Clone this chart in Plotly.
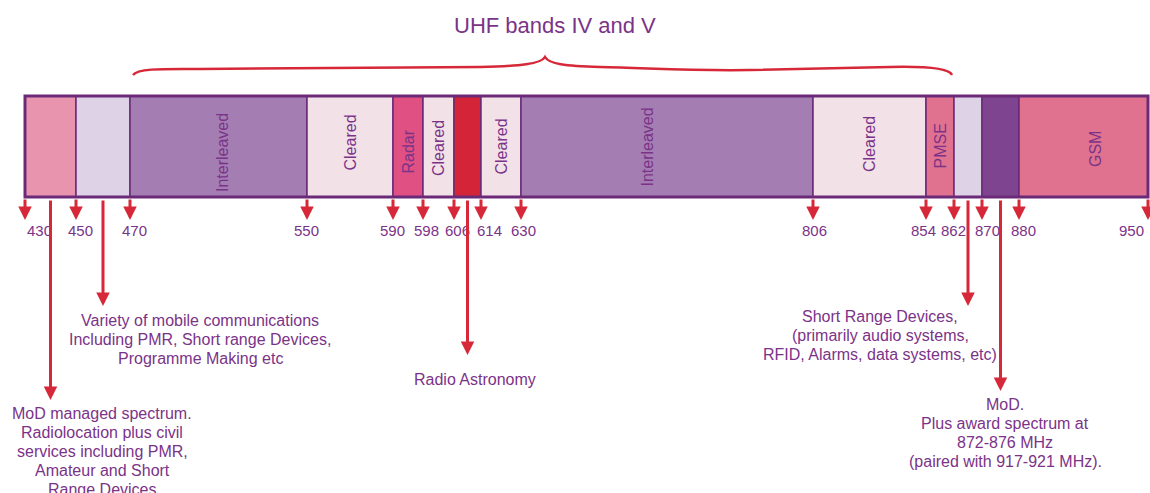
import numpy as np
import plotly.graph_objects as go

# ---------------- data ----------------
title_text = "UHF bands IV and V"
edge_mhz = [430, 450, 470, 550, 590, 598, 606, 614, 630, 806, 854, 862, 870, 880, 950]
# schematic (non-linear) position of each band edge on the diagram axis
edge_pos = [25, 76, 130, 307, 393, 423, 454, 481, 521, 813, 926, 954, 982, 1019, 1148]
band_labels = ["", "", "Interleaved", "Cleared", "Radar", "Cleared", "", "Cleared",
               "Interleaved", "Cleared", "PMSE", "", "", "GSM"]
band_colors = ["#E894AE", "#DED3E6", "#A47EB2", "#F2E2E8", "#E05082", "#F2E2E8", "#D42437",
               "#F2E2E8", "#A47EB2", "#F2E2E8", "#E07290", "#DED3E6", "#7F448F", "#E07290"]
tick_labels = [str(v) for v in edge_mhz]

callout_mhz = [440, 460, 610, 866, 875]
callout_lines = [
    ["MoD managed spectrum.", "Radiolocation plus civil", "services including PMR,",
     "Amateur and Short", "Range Devices"],
    ["Variety of mobile communications", "Including PMR, Short range Devices,",
     "Programme Making etc"],
    ["Radio Astronomy"],
    ["Short Range Devices,", "(primarily audio systems,", "RFID, Alarms, data systems, etc)"],
    ["MoD.", "Plus award spectrum at", "872-876 MHz", "(paired with 917-921 MHz)."],
]

# ---------------- layout parameters ----------------
W, H = 1150, 493
bar_top, bar_bot = 96, 197
purple_txt = "#7B3388"
border = "#6A2A78"
red = "#D62839"
font_fam = "Liberation Sans, Arial, sans-serif"
label_dx = [0, 0, 4, 0, 0, 0, 0, 0, -20, 0, 0, 0, 0, 12]
label_dy = [0, 0, 6, -4, 5, 2, 0, 0, 1, -2, 0, 0, 0, 3]
tick_dx = [0, 4, 4, -1, -1, 3, 3, 8, 2, 1, -3, -1, 5, 4, -2]
callout_tip_y = [400, 306, 355, 306, 391]
callout_text_x = [102, 200, 475, 880, 1005]
callout_text_y = [413, 320, 379, 316, 404]  # centre of first line
line_step = 19

def pos(mhz):
    return float(np.interp(mhz, edge_mhz, edge_pos))

x0 = np.array([pos(v) for v in edge_mhz[:-1]])
x1 = np.array([pos(v) for v in edge_mhz[1:]])
centers = (x0 + x1) / 2
widths = x1 - x0

fig = go.Figure()
fig.add_trace(go.Bar(
    x=centers, y=[bar_bot - bar_top] * len(centers), base=bar_top, width=widths,
    marker=dict(color=band_colors, line=dict(color=border, width=1.5)),
    hoverinfo="skip", showlegend=False,
))

annotations = []
shapes = []

shapes.append(dict(type="rect", xref="x", yref="y", x0=pos(edge_mhz[0]), x1=pos(edge_mhz[-1]),
                   y0=bar_top, y1=bar_bot, line=dict(color=border, width=3), fillcolor="rgba(0,0,0,0)"))

for c, lab, dx, dy in zip(centers, band_labels, label_dx, label_dy):
    if lab:
        annotations.append(dict(x=c + dx, y=(bar_top + bar_bot) / 2 + dy, xref="x", yref="y",
                                text=lab, showarrow=False, textangle=-90,
                                font=dict(family=font_fam, size=16, color=purple_txt)))

for i, (m, lab, tdx) in enumerate(zip(edge_mhz, tick_labels, tick_dx)):
    px = pos(m)
    annotations.append(dict(x=px, y=220, ax=px, ay=bar_bot + 1, xref="x", yref="y",
                            axref="x", ayref="y", text="", showarrow=True,
                            arrowhead=2, arrowsize=0.9, arrowwidth=3, arrowcolor=red))
    anchor = "center"
    if i == 0:
        anchor = "left"
    elif i == len(edge_mhz) - 1:
        anchor = "right"
    annotations.append(dict(x=px + tdx, y=230, xref="x", yref="y", text=lab, showarrow=False,
                            xanchor=anchor, yanchor="middle",
                            font=dict(family=font_fam, size=15, color=purple_txt)))

for m, lines, ty, tx, tyy in zip(callout_mhz, callout_lines, callout_tip_y, callout_text_x, callout_text_y):
    px = pos(m)
    annotations.append(dict(x=px, y=ty, ax=px, ay=bar_bot + 2, xref="x", yref="y",
                            axref="x", ayref="y", text="", showarrow=True,
                            arrowhead=2, arrowsize=0.9, arrowwidth=3, arrowcolor=red))
    for k, ln in enumerate(lines):
        annotations.append(dict(x=tx, y=tyy + k * line_step, xref="x", yref="y", text=ln,
                                showarrow=False, xanchor="center", yanchor="middle",
                                font=dict(family=font_fam, size=16, color=purple_txt)))

annotations.append(dict(x=555, y=25, xref="x", yref="y", text=title_text, showarrow=False,
                        font=dict(family=font_fam, size=22, color=purple_txt)))
shapes.append(dict(type="path", xref="x", yref="y",
                   path="M 133,75 C 138,68 165,69 200,69 L 480,67 C 520,66 541,64 545,57 "
                        "C 549,64 565,66 600,67 C 650,68 690,71 750,70 L 890,67 "
                        "C 935,66 950,70 952,75",
                   line=dict(color=red, width=2.5)))

fig.update_layout(
    width=W, height=H, margin=dict(l=0, r=0, t=0, b=0),
    paper_bgcolor="white", plot_bgcolor="white",
    xaxis=dict(range=[0, W], visible=False, fixedrange=True),
    yaxis=dict(range=[H, 0], visible=False, fixedrange=True),
    annotations=annotations, shapes=shapes, barmode="overlay", hovermode=False,
)
fig.write_html("out.html", config={"displayModeBar": False},
               default_width=f"{W}px", default_height=f"{H}px",
               post_script="document.body.style.margin='0';document.body.style.overflow='hidden';")
